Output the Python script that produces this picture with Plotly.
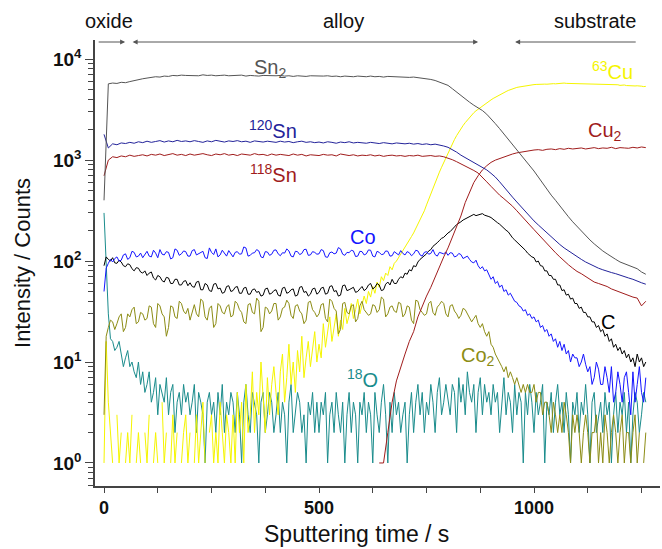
import plotly.graph_objects as go

# ---------------- data ----------------
time_s = list(range(0, 1270, 10))   # 0 ... 1260 s, smooth signals
time_5s = list(range(0, 1265, 5))   # 0 ... 1260 s, noisy signals

sn2 = [
    400, 5700, 5800, 5750, 5900, 5850, 6000, 6150, 6250, 6400,
    6500, 6600, 6700, 6650, 6800, 6750, 6900, 6850, 6950, 6900,
    6900, 6950, 6850, 7000, 6900, 6950, 6850, 6900, 6950, 6850,
    6900, 6850, 6950, 6800, 6900, 6850, 6800, 6900, 6850, 6800,
    6850, 6900, 6800, 6850, 6750, 6850, 6800, 6750, 6850, 6800,
    6750, 6800, 6850, 6750, 6800, 6700, 6800, 6750, 6700, 6800,
    6750, 6700, 6800, 6700, 6750, 6650, 6750, 6700, 6650, 6700,
    6650, 6600, 6650, 6550, 6500, 6450, 6300, 6150, 5950, 5750,
    5500, 5100, 4700, 4350, 4050, 3750, 3500, 3300, 3100, 2850,
    2580, 2300, 2050, 1820, 1620, 1440, 1280, 1140, 1000, 890,
    780, 680, 590, 520, 450, 400, 350, 310, 275, 245,
    220, 200, 180, 162, 148, 136, 126, 118, 110, 104,
    98, 94, 90, 86, 84, 78, 74]

sn120 = [
    1800, 1320, 1450, 1420, 1480, 1460, 1500, 1470, 1520, 1490,
    1540, 1500, 1530, 1560, 1510, 1550, 1520, 1570, 1530, 1550,
    1520, 1560, 1530, 1500, 1550, 1520, 1570, 1540, 1510, 1550,
    1530, 1560, 1520, 1540, 1500, 1550, 1530, 1510, 1540, 1520,
    1500, 1540, 1510, 1530, 1490, 1520, 1540, 1500, 1520, 1490,
    1510, 1480, 1520, 1500, 1470, 1510, 1490, 1520, 1480, 1500,
    1490, 1470, 1500, 1480, 1460, 1490, 1470, 1450, 1480, 1460,
    1450, 1470, 1440, 1460, 1430, 1450, 1420, 1440, 1420, 1380,
    1340, 1280, 1200, 1120, 1060, 1000, 950, 900, 850, 800,
    740, 680, 610, 540, 480, 430, 385, 345, 305, 275,
    250, 228, 208, 190, 174, 160, 146, 135, 126, 118,
    110, 104, 98, 93, 89, 85, 82, 79, 77, 75,
    73, 70, 68, 66, 63, 61, 59]

sn118 = [
    700, 1000, 1080, 1060, 1100, 1080, 1120, 1090, 1110, 1130,
    1100, 1140, 1120, 1150, 1110, 1130, 1160, 1120, 1140, 1110,
    1150, 1120, 1140, 1160, 1130, 1110, 1150, 1130, 1160, 1120,
    1140, 1110, 1150, 1130, 1120, 1160, 1130, 1140, 1110, 1150,
    1120, 1140, 1130, 1110, 1150, 1120, 1140, 1100, 1130, 1120,
    1110, 1140, 1120, 1130, 1100, 1150, 1120, 1110, 1130, 1100,
    1120, 1110, 1130, 1100, 1120, 1090, 1110, 1120, 1100, 1110,
    1090, 1110, 1100, 1120, 1090, 1100, 1110, 1090, 1100, 1080,
    1050, 1010, 965, 920, 875, 830, 790, 745, 680, 610,
    550, 495, 450, 415, 385, 350, 315, 285, 255, 228,
    205, 184, 165, 148, 134, 121, 110, 100, 92, 85,
    79, 75, 70, 66, 62, 60, 58, 56, 53, 51,
    49, 47, 46, 44, 43, 36, 40]

cu2_time = list(range(640, 1270, 10))
cu2 = [
    1, 1, 2, 4, 6.5, 9, 12, 16, 20, 28,
    36, 45, 55, 70, 90, 110, 135, 170, 220, 280,
    380, 480, 600, 700, 800, 880, 950, 1000, 1040, 1080,
    1120, 1150, 1180, 1200, 1230, 1250, 1260, 1270, 1250, 1280,
    1290, 1270, 1300, 1280, 1310, 1290, 1300, 1320, 1290, 1310,
    1330, 1300, 1320, 1310, 1340, 1300, 1330, 1320, 1310, 1340,
    1320, 1350, 1330]

# noisy signals, 5 s steps (None = zero counts, not shown on log axis)
cu63 = [
    1, 16, 4, 2, 1, None, 3, 1, 2, None, 1, 2, 1, 3, None, 1, 2, 1, None, 2,
    1, 3, None, 1, 2, 1, None, 4, 1, 2, None, 1, 3, 1, 2, None, 1, 2, 3, 1,
    2, None, 1, 3, 1, 2, 4, 1, None, 2, 3, 1, 2, 1, 4, 2, 1, 3, 2, 1,
    3, 1, 5, 2, 4, 1, 6, 2, 3, 8, 2, 5, 3, 10, 4, 2, 7, 3, 6, 9,
    5, 3, 8, 12, 4, 7, 15, 6, 10, 5, 13, 8, 18, 7, 11, 16, 9, 14, 20, 10,
    15, 11, 24, 14, 19, 28, 16, 22, 30, 18, 26, 21, 34, 24, 29, 38, 27, 33, 42, 30,
    36, 45, 38, 50, 44, 56, 48, 62, 55, 70, 64, 76, 72, 88, 82, 95, 100, 108, 118, 125,
    135, 148, 160, 175, 190, 210, 230, 255, 280, 315, 360, 410, 470, 530, 600, 680, 760, 850, 950, 1050,
    1150, 1300, 1450, 1600, 1750, 1900, 2050, 2200, 2350, 2500, 2650, 2800, 2950, 3080, 3200, 3330, 3450, 3580, 3700, 3820,
    3950, 4080, 4200, 4330, 4450, 4550, 4650, 4780, 4900, 5000, 5100, 5180, 5250, 5300, 5350, 5400, 5450, 5500, 5550, 5570,
    5600, 5620, 5650, 5680, 5700, 5660, 5650, 5700, 5750, 5720, 5700, 5740, 5750, 5780, 5800, 5760, 5750, 5790, 5800, 5770,
    5750, 5720, 5700, 5740, 5750, 5710, 5700, 5680, 5700, 5660, 5650, 5680, 5700, 5640, 5650, 5600, 5650, 5620, 5550, 5580,
    5500, 5530, 5550, 5480, 5450, 5500, 5400, 5430, 5450, 5380, 5400, 5350, 5380]

co = [
    50, 85, 95, 104, 98, 106, 110, 100, 102, 115, 118, 104, 108, 125, 122, 110, 112, 120, 108, 116,
    125, 112, 110, 128, 120, 108, 130, 117, 115, 124, 122, 105, 108, 132, 128, 114, 118, 126, 124, 112,
    112, 127, 130, 115, 118, 122, 125, 108, 106, 135, 122, 116, 132, 110, 115, 128, 120, 112, 127, 119,
    110, 122, 124, 117, 118, 138, 135, 112, 114, 120, 121, 130, 126, 110, 108, 124, 123, 114, 117, 128,
    129, 118, 113, 121, 120, 132, 126, 112, 110, 125, 124, 116, 119, 130, 131, 114, 115, 124, 122, 117,
    118, 130, 127, 110, 109, 121, 123, 118, 120, 136, 132, 117, 114, 122, 121, 128, 126, 111, 112, 125,
    124, 115, 118, 129, 128, 112, 110, 125, 122, 116, 117, 126, 125, 112, 113, 124, 120, 115, 127, 119,
    115, 124, 121, 113, 118, 128, 126, 115, 112, 122, 124, 117, 119, 130, 116, 112, 122, 119, 118, 123,
    114, 121, 120, 110, 112, 119, 116, 106, 108, 112, 104, 98, 96, 102, 90, 84, 88, 80, 82, 72,
    66, 70, 60, 63, 55, 58, 50, 52, 46, 48, 43, 40, 39, 36, 35, 32, 33, 29, 30, 27,
    28, 25, 26, 22, 23, 20, 21, 18, 19, 16, 17, 14, 16, 13, 15, 12, 13, 10, 12, 11,
    11, 9, 10, 12, 9.5, 8, 9, 6, 7, 10, 8.5, 6, 6, 9, 7, 5, 9, 4, 5, 8,
    6, 4, 7, 8, 5, 3, 8, 4, 6, 9, 5, 4, 7]

c_signal = [
    90, 110, 104, 100, 108, 96, 95, 102, 98, 90, 88, 94, 92, 84, 80, 86, 85, 78, 76, 80,
    72, 76, 78, 68, 65, 72, 70, 64, 62, 69, 68, 60, 60, 66, 66, 58, 58, 63, 64, 57,
    61, 56, 55, 62, 63, 52, 52, 60, 58, 51, 50, 59, 60, 53, 54, 48, 49, 56, 57, 50,
    51, 55, 56, 48, 48, 54, 55, 47, 47, 52, 53, 49, 50, 45, 46, 53, 54, 47, 48, 51,
    52, 46, 45, 54, 55, 48, 49, 52, 53, 45, 46, 55, 56, 49, 50, 45, 47, 53, 54, 47,
    49, 54, 55, 47, 48, 56, 57, 50, 51, 45, 46, 57, 58, 51, 52, 54, 55, 49, 50, 53,
    56, 51, 53, 58, 60, 53, 55, 60, 58, 51, 52, 59, 62, 58, 66, 60, 60, 66, 70, 68,
    76, 74, 82, 80, 90, 88, 98, 104, 108, 112, 118, 126, 130, 140, 145, 152, 160, 168, 172, 182,
    190, 196, 205, 218, 230, 236, 245, 255, 262, 272, 280, 286, 290, 282, 285, 292, 295, 285, 282, 276,
    270, 258, 248, 240, 232, 220, 212, 202, 195, 180, 170, 162, 155, 146, 140, 134, 128, 120, 115, 110,
    108, 98, 100, 90, 89, 80, 80, 72, 72, 66, 66, 58, 58, 51, 52, 46, 47, 42, 43, 38,
    38, 34, 35, 31, 31, 28, 28, 25, 25, 22, 23, 20, 21, 18, 19, 16, 17, 14, 15, 13,
    14, 12, 13, 11, 12, 10, 11, 9, 12, 10, 11, 9, 10]

co2 = [
    3, 18, 22, 26, 25, 21, 24, 28, 30, 20, 22, 30, 28, 33, 35, 24, 25, 31, 30, 26,
    27, 36, 35, 24, 22, 38, 36, 30, 28, 18, 22, 36, 35, 28, 27, 40, 38, 32, 30, 34,
    26, 32, 37, 30, 28, 42, 40, 28, 26, 34, 36, 22, 24, 38, 36, 31, 30, 35, 37, 28,
    29, 40, 38, 33, 31, 25, 24, 37, 38, 31, 30, 43, 40, 20, 22, 35, 34, 30, 32, 38,
    38, 26, 28, 34, 35, 41, 38, 29, 27, 36, 37, 32, 30, 24, 26, 39, 40, 33, 31, 28,
    30, 37, 38, 27, 25, 42, 40, 34, 32, 19, 21, 38, 39, 31, 30, 36, 37, 25, 27, 36,
    40, 33, 31, 29, 30, 37, 36, 31, 33, 44, 42, 28, 30, 35, 36, 32, 31, 39, 38, 28,
    30, 36, 35, 26, 24, 41, 40, 33, 31, 29, 30, 38, 40, 31, 29, 35, 37, 40, 38, 30,
    28, 36, 37, 32, 30, 27, 29, 34, 33, 30, 28, 25, 27, 29, 24, 22, 24, 20, 18, 20,
    15, 14, 12, 11, 10, 9, 8, 9, 7, 8, 7, 6, 7, 6, 5, 6, 5, 6, 5, 5,
    6, 4, 5, 5, 3, 4, 4, 3, 2, 4, 3, 2, 3, 2, 4, 3, 2, 1, 3, 2,
    3, 2, 1, 2, 3, 2, 1, 2, 2, 3, 1, 2, 1, 3, 2, 1, 2, 3, 2, 1,
    2, 3, 1, 2, 2, 1, 2, 3, 1, 2, None, 1, 2]

o18 = [
    300, 90, 30, 17, 16, 13, 14, 16, 12, 9, 11, 13, 9, 10, 8, 7, 10, 6, 8, 5,
    6, 8, 4, 5, 7, 3, 6, 5, 4, 7, 3, 5, 6, 2, 4, 5, 3, 6, 4, 5,
    3, 4, 6, 2, 5, 4, 3, 1, 4, 5, 3, 4, 2, 5, 3, 6, 2, 4, 3, 5,
    4, 2, 5, 3, 1, 4, 6, 3, 2, 5, 4, 3, 1, 4, 5, 2, 3, 5, 4, 2,
    3, 5, 2, 4, 3, 1, 4, 6, 2, 3, 5, 4, 2, 3, 1, 4, 3, 5, 2, 4,
    2, 4, 3, 5, 1, 3, 4, 2, 5, 3, 2, 4, 1, 3, 5, 2, 4, 3, 1, 4,
    3, 5, 2, 4, 3, 1, 5, 3, 2, 4, 6, 3, 1, 4, 2, 5, 3, 4, 2, 3,
    4, 1, 3, 5, 2, 4, 6, 3, 5, 2, 4, 3, 6, 4, 2, 5, 7, 3, 4, 6,
    4, 3, 6, 5, 2, 7, 4, 6, 3, 8, 5, 4, 6, 2, 5, 7, 3, 6, 4, 5,
    3, 6, 4, 5, 2, 4, 7, 3, 5, 4, 2, 6, 3, 5, 4, 1, 5, 3, 6, 4,
    2, 5, 3, 4, 6, 1, 4, 3, 5, 2, 4, 6, 3, 4, 2, 5, 3, 1, 4, 3,
    5, 2, 4, 3, 6, 3, 1, 4, 5, 2, 3, 4, 2, 5, 3, 4, 1, 3, 5, 2,
    4, 3, 5, 2, 4, 1, 3, 5, 4, 2, 3, 5, 4]

x_tick_vals = [0, 500, 1000]
x_tick_text = ["<b>0</b>", "<b>500</b>", "<b>1000</b>"]
x_minor_vals = [125, 250, 375, 625, 750, 875, 1125, 1250]
y_tick_vals = [1, 10, 100, 1000, 10000]
y_tick_text = ["<b>10<sup>0</sup></b>", "<b>10<sup>1</sup></b>", "<b>10<sup>2</sup></b>",
               "<b>10<sup>3</sup></b>", "<b>10<sup>4</sup></b>"]
y_minor_vals = [0.6, 0.7, 0.8, 0.9,
                2, 3, 4, 5, 6, 7, 8, 9,
                20, 30, 40, 50, 60, 70, 80, 90,
                200, 300, 400, 500, 600, 700, 800, 900,
                2000, 3000, 4000, 5000, 6000, 7000, 8000, 9000]

# ---------------- styles ----------------
FONT = "Liberation Sans, Arial, sans-serif"
C_SN2 = "#555555"
C_120 = "#23239a"
C_RED = "#a01c1c"
C_YEL = "#f5f500"
C_CO = "#1414ff"
C_C = "#000000"
C_CO2 = "#8c8c14"
C_O18 = "#1a8c8c"

fig = go.Figure()

def add(x, y, color, name):
    fig.add_trace(go.Scatter(x=x, y=y, mode="lines", name=name, connectgaps=False,
                             line=dict(color=color, width=1), showlegend=False))

add(time_5s, o18, C_O18, "18O")
add(time_5s, cu63, C_YEL, "63Cu")
add(time_5s, co2, C_CO2, "Co2")
add(time_5s, c_signal, C_C, "C")
add(time_5s, co, C_CO, "Co")
add(cu2_time, cu2, C_RED, "Cu2")
add(time_s, sn118, C_RED, "118Sn")
add(time_s, sn120, C_120, "120Sn")
add(time_s, sn2, C_SN2, "Sn2")

labels = [
    (386, 3.91, "Sn<sub>2</sub>", C_SN2),
    (393, 3.30, "<sup>120</sup>Sn", C_120),
    (393, 2.87, "<sup>118</sup>Sn", C_RED),
    (1182, 3.89, "<sup>63</sup>Cu", C_YEL),
    (1165, 3.28, "Cu<sub>2</sub>", C_RED),
    (602, 2.24, "Co", C_CO),
    (870, 1.05, "Co<sub>2</sub>", C_CO2),
    (1172, 1.40, "C", C_C),
    (600, 0.84, "<sup>18</sup>O", C_O18),
]
for x, ly, txt, col in labels:
    fig.add_annotation(x=x, y=ly, xref="x", yref="y", text=txt, showarrow=False,
                       font=dict(family=FONT, size=20, color=col))

# region labels
for xp, txt in [(0.025, "oxide"), (0.439, "alloy"), (0.885, "substrate")]:
    fig.add_annotation(x=xp, y=1.043, xref="paper", yref="paper", text=txt,
                       xanchor="center", yanchor="middle", showarrow=False,
                       font=dict(family=FONT, size=20, color="#111111"))

# region arrows
arrow_style = dict(xref="x", yref="paper", axref="x", ayref="pixel", ay=0,
                   showarrow=True, arrowhead=2, arrowsize=1, arrowwidth=1,
                   arrowcolor="#555555", text="")
fig.add_annotation(x=49, y=0.9955, ax=-16, **arrow_style)
fig.add_annotation(x=870, y=0.9955, ax=63, arrowside="end+start", **arrow_style)
fig.add_annotation(x=956, y=0.9955, ax=1240, **arrow_style)

# x-axis title (placed as in the original, slightly left of the plot centre)
fig.add_annotation(x=0.462, y=-0.141, xref="paper", yref="paper",
                   text="Sputtering time / s", showarrow=False,
                   xanchor="center", yanchor="bottom",
                   font=dict(family=FONT, size=23, color="#111111"))

fig.update_layout(
    width=662, height=549,
    margin=dict(l=95, r=2, t=40, b=63),
    paper_bgcolor="white", plot_bgcolor="white",
    font=dict(family=FONT, color="#111111"),
    xaxis=dict(range=[-21, 1293], showgrid=False, zeroline=False, automargin=False,
               showline=True, linecolor="#444444", linewidth=1.5,
               ticks="outside", ticklen=5, tickwidth=1, tickcolor="#444444",
               tickvals=x_tick_vals, ticktext=x_tick_text,
               tickfont=dict(family=FONT, size=18, color="#111111"),
               minor=dict(tickvals=x_minor_vals, ticks="outside", ticklen=5,
                          tickwidth=1, tickcolor="#444444")),
    yaxis=dict(type="log", range=[-0.228, 4.19], showgrid=False, zeroline=False,
               automargin=False,
               showline=True, linecolor="#444444", linewidth=1.5,
               ticks="outside", ticklen=8, tickwidth=1, tickcolor="#444444",
               tickvals=y_tick_vals, ticktext=y_tick_text,
               tickfont=dict(family=FONT, size=19, color="#111111"),
               minor=dict(tickvals=y_minor_vals, ticks="outside", ticklen=5,
                          tickwidth=1, tickcolor="#444444"),
               title=dict(text="Intensity / Counts", standoff=16,
                          font=dict(family=FONT, size=22, color="#111111"))),
)

fig.write_html("out.html", config={"displayModeBar": False},
               post_script="document.body.style.margin='0';")
